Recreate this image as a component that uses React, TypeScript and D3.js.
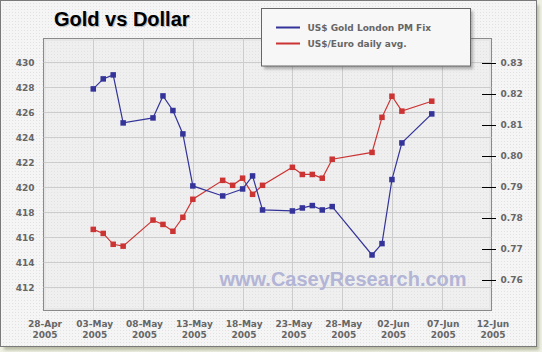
import * as d3 from 'd3';

const W = 542;
const H = 352;

const goldDates = [
  '2005-05-03', '2005-05-04', '2005-05-05', '2005-05-06', '2005-05-09', '2005-05-10',
  '2005-05-11', '2005-05-12', '2005-05-13', '2005-05-16', '2005-05-18', '2005-05-19',
  '2005-05-20', '2005-05-23', '2005-05-24', '2005-05-25', '2005-05-26', '2005-05-27',
  '2005-05-31', '2005-06-01', '2005-06-02', '2005-06-03', '2005-06-06',
];
const goldValues = [
  427.87, 428.67, 428.99, 425.15, 425.55, 427.31,
  426.14, 424.27, 420.11, 419.31, 419.87, 420.91,
  418.19, 418.11, 418.35, 418.54, 418.19, 418.46,
  414.59, 415.5, 420.62, 423.55, 425.87,
];

const euroDates = [
  '2005-05-03', '2005-05-04', '2005-05-05', '2005-05-06', '2005-05-09', '2005-05-10',
  '2005-05-11', '2005-05-12', '2005-05-13', '2005-05-16', '2005-05-17', '2005-05-18',
  '2005-05-19', '2005-05-20', '2005-05-23', '2005-05-24', '2005-05-25', '2005-05-26',
  '2005-05-27', '2005-05-31', '2005-06-01', '2005-06-02', '2005-06-03', '2005-06-06',
];
const euroValues = [
  0.7763, 0.775, 0.7715, 0.7709, 0.7793, 0.7779,
  0.7757, 0.7802, 0.786, 0.7921, 0.7905, 0.7928,
  0.7876, 0.7905, 0.7963, 0.794, 0.794, 0.7928,
  0.7989, 0.8011, 0.8124, 0.8192, 0.8144, 0.8176,
];

const goldTicks = [412, 414, 416, 418, 420, 422, 424, 426, 428, 430];
const euroTicks = [0.76, 0.77, 0.78, 0.79, 0.8, 0.81, 0.82, 0.83];

const legendItems = [
  { label: 'US$ Gold London PM Fix', color: '#333399' },
  { label: 'US$/Euro daily avg.', color: '#cc3333' },
];

const parse = d3.utcParse('%Y-%m-%d');
const fmtDay = d3.utcFormat('%d-%b');
const fmtYear = d3.utcFormat('%Y');

const plot = { left: 43.5, right: 491.5, top: 38.5, bottom: 310.5 };
const FONT = '"DejaVu Sans", Verdana, sans-serif';

export default function App() {
  const x = d3.scaleUtc()
    .domain([parse('2005-04-28')!, parse('2005-06-12')!])
    .range([plot.left, plot.right]);
  const yGold = d3.scaleLinear().domain([410.15, 431.9]).range([plot.bottom, plot.top]);
  const yEuro = d3.scaleLinear().domain([0.75017, 0.8378]).range([plot.bottom, plot.top]);
  const dateTicks = x.ticks(d3.utcDay.every(5)!).filter(d => d <= x.domain()[1]);
  const xTicks = d3.utcDay.range(x.domain()[0], d3.utcDay.offset(x.domain()[1], 1), 5);

  const gold = goldDates.map((d, i) => ({ date: parse(d)!, v: goldValues[i] }));
  const euro = euroDates.map((d, i) => ({ date: parse(d)!, v: euroValues[i] }));

  const goldLine = d3.line<{ date: Date; v: number }>().x(d => x(d.date)).y(d => yGold(d.v));
  const euroLine = d3.line<{ date: Date; v: number }>().x(d => x(d.date)).y(d => yEuro(d.v));
  const sq = 5.5;

  return (
    <svg width={W} height={H} style={{ position: 'absolute', left: 0, top: 0 }} fontFamily={FONT}>
      <defs>
        <pattern id="dots" width="3" height="3" patternUnits="userSpaceOnUse">
          <rect width="3" height="3" fill="#f5f5f5" />
          <rect width="1" height="1" fill="#e2e2e2" />
        </pattern>
        <pattern id="dotsPlot" width="3" height="3" patternUnits="userSpaceOnUse">
          <rect width="3" height="3" fill="#efefef" />
          <rect width="1" height="1" fill="#e3e3e3" />
        </pattern>
        <filter id="blur" x="-10%" y="-10%" width="130%" height="130%">
          <feGaussianBlur stdDeviation="1.5" />
        </filter>
      </defs>

      {/* page background + frame shadow */}
      <rect width={W} height={H} fill="#eef0e4" />
      <rect x={4} y={5} width={535} height={345} fill="#b9bca6" filter="url(#blur)" />
      <rect x={0.5} y={0.5} width={536} height={346} fill="url(#dots)" stroke="#7a7a7a" />

      {/* title */}
      <text x={55} y={26.5} fontFamily='"Liberation Sans", Arial, sans-serif' fontWeight="bold" fontSize={20} fill="#bbbbbb">Gold vs Dollar</text>
      <text x={54} y={25.5} fontFamily='"Liberation Sans", Arial, sans-serif' fontWeight="bold" fontSize={20} fill="#000">Gold vs Dollar</text>

      {/* plot area */}
      <rect x={plot.left} y={plot.top} width={plot.right - plot.left} height={plot.bottom - plot.top}
        fill="url(#dotsPlot)" stroke="#8a8a8a" />
      <rect x={plot.left + 1.5} y={plot.top + 1.5} width={plot.right - plot.left - 3} height={plot.bottom - plot.top - 3}
        fill="none" stroke="#e6e6e6" strokeWidth={2} />

      {/* grid */}
      {goldTicks.map(t => (
        <line key={'gy' + t} x1={plot.left} x2={plot.right} y1={Math.round(yGold(t)) + 0.5} y2={Math.round(yGold(t)) + 0.5}
          stroke="#cccccc" />
      ))}
      {xTicks.slice(1, -1).map(t => (
        <line key={'gx' + t.getTime()} y1={plot.top} y2={plot.bottom} x1={Math.round(x(t)) + 0.5} x2={Math.round(x(t)) + 0.5}
          stroke="#cccccc" />
      ))}

      {/* watermark */}
      <text x={343} y={286} textAnchor="middle" fontFamily='"Liberation Sans", Arial, sans-serif' fontWeight="bold"
        fontSize={20} fill="#b3b5d6">www.CaseyResearch.com</text>

      {/* left axis labels */}
      {goldTicks.map(t => (
        <text key={'gl' + t} x={34.5} y={yGold(t) + 3.3} textAnchor="end" fontSize={9} fontWeight="bold" fill="#666">{t}</text>
      ))}

      {/* right axis */}
      {euroTicks.map(t => (
        <g key={'el' + t}>
          <line x1={482} x2={496} y1={Math.round(yEuro(t)) + 0.5} y2={Math.round(yEuro(t)) + 0.5} stroke="#000" />
          <text x={500.5} y={yEuro(t) + 3.3} fontSize={9} fontWeight="bold" fill="#666">{d3.format('.2f')(t)}</text>
        </g>
      ))}

      {/* x axis labels */}
      {xTicks.map(t => (
        <text key={'xl' + t.getTime()} x={x(t) + 1.5} textAnchor="middle" fontSize={9} fontWeight="bold" fill="#666">
          <tspan x={x(t) + 1.5} y={327}>{fmtDay(t)}</tspan>
          <tspan x={x(t) + 1.5} y={337.5}>{fmtYear(t)}</tspan>
        </text>
      ))}

      {/* series */}
      <path d={euroLine(euro)!} fill="none" stroke="#cc3333" strokeWidth={1.2} />
      {euro.map((d, i) => (
        <rect key={'er' + i} x={x(d.date) - sq / 2} y={yEuro(d.v) - sq / 2} width={sq} height={sq} fill="#cc3333" />
      ))}
      <path d={goldLine(gold)!} fill="none" stroke="#333399" strokeWidth={1.2} />
      {gold.map((d, i) => (
        <rect key={'gr' + i} x={x(d.date) - sq / 2} y={yGold(d.v) - sq / 2} width={sq} height={sq} fill="#333399" />
      ))}

      {/* legend */}
      <rect x={264} y={11} width={209} height={58} fill="#555" opacity={0.45} filter="url(#blur)" />
      <rect x={261.5} y={8.5} width={209} height={57.5} fill="#f7f7f7" stroke="#666" />
      {legendItems.map((it, i) => (
        <g key={it.label}>
          <line x1={276} x2={300} y1={27.5 + i * 16} y2={27.5 + i * 16} stroke={it.color} strokeWidth={2} />
          <text x={307.5} y={30.8 + i * 16} fontSize={9} fontWeight="bold" fill="#666">{it.label}</text>
        </g>
      ))}
    </svg>
  );
}
